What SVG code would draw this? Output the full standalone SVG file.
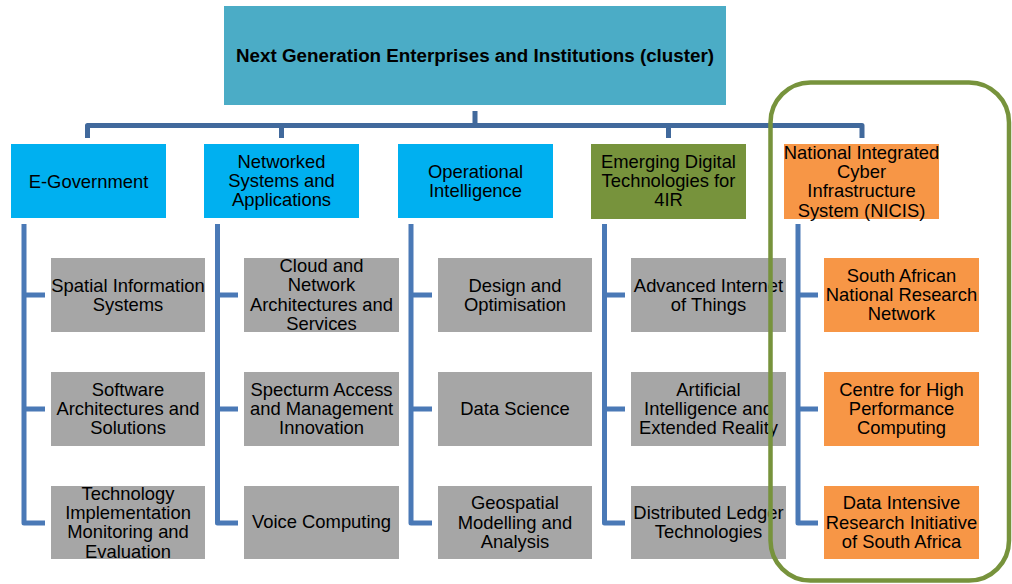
<svg xmlns="http://www.w3.org/2000/svg" width="1012" height="584" viewBox="0 0 1012 584">
<style>
text{font-family:"Liberation Sans",Arial,sans-serif;font-size:18.4px;fill:#000;text-anchor:middle}
.title{font-weight:bold;font-size:18.8px}
.top{fill:#4BACC6}
.blue{fill:#00B0F0}
.green{fill:#77933C}
.orange{fill:#F79646}
.gray{fill:#A6A6A6}
.bar{fill:none;stroke:#41699C;stroke-width:5;stroke-linejoin:round}
.stem{fill:none;stroke:#4A79B6;stroke-width:5;stroke-linejoin:round}
.frame{fill:none;stroke:#77933C;stroke-width:4.5}
</style>
<rect width="1012" height="584" fill="#fff"/>
<g id="connectors">
<path class="bar" d="M475 111V125.5M87.5 138V125.5H862V138M281.5 125.5V138M668.5 125.5V138"/>
<path class="stem" d="M24 224V523H45M24 295H45M24 409H45"/>
<path class="stem" d="M217.5 224V523H238M217.5 295H238M217.5 409H238"/>
<path class="stem" d="M411 224V523H432M411 295H432M411 409H432"/>
<path class="stem" d="M604.5 224V523H625M604.5 295H625M604.5 409H625"/>
<path class="stem" d="M798 224V523H818M798 295H818M798 409H818"/>
</g>
<g id="root">
<rect class="top" x="224" y="6" width="502" height="99"/>
<text class="title" x="475" y="62">Next Generation Enterprises and Institutions (cluster)</text>
</g>
<g id="egov">
<rect class="blue" x="11" y="144" width="155" height="74"/>
<text x="88.5" y="187.5">E-Government</text>
</g>
<g id="networked">
<rect class="blue" x="204" y="144" width="155" height="74"/>
<text><tspan x="281.5" y="167.8">Networked</tspan><tspan x="281.5" y="187.1">Systems and</tspan><tspan x="281.5" y="206.4">Applications</tspan></text>
</g>
<g id="operational">
<rect class="blue" x="398" y="144" width="155" height="74"/>
<text><tspan x="475.5" y="177.5">Operational</tspan><tspan x="475.5" y="196.8">Intelligence</tspan></text>
</g>
<g id="emerging">
<rect class="green" x="591" y="144" width="155" height="75"/>
<text><tspan x="668.5" y="167.8">Emerging Digital</tspan><tspan x="668.5" y="187.1">Technologies for</tspan><tspan x="668.5" y="206.4">4IR</tspan></text>
</g>
<g id="nicis">
<rect class="orange" x="784" y="144" width="155" height="75"/>
<text><tspan x="861.5" y="158.6">National Integrated</tspan><tspan x="861.5" y="177.9">Cyber</tspan><tspan x="861.5" y="197.2">Infrastructure</tspan><tspan x="861.5" y="216.5">System (NICIS)</tspan></text>
</g>
<g id="spatial">
<rect class="gray" x="51" y="258" width="154" height="74"/>
<text><tspan x="128" y="291.5">Spatial Information</tspan><tspan x="128" y="310.8">Systems</tspan></text>
</g>
<g id="software">
<rect class="gray" x="51" y="372" width="154" height="74"/>
<text><tspan x="128" y="395.8">Software</tspan><tspan x="128" y="415.1">Architectures and</tspan><tspan x="128" y="434.4">Solutions</tspan></text>
</g>
<g id="techimpl">
<rect class="gray" x="51" y="486" width="154" height="73"/>
<text><tspan x="128" y="499.6">Technology</tspan><tspan x="128" y="518.9">Implementation</tspan><tspan x="128" y="538.2">Monitoring and</tspan><tspan x="128" y="557.5">Evaluation</tspan></text>
</g>
<g id="cloud">
<rect class="gray" x="244" y="258" width="155" height="74"/>
<text><tspan x="321.5" y="272.1">Cloud and</tspan><tspan x="321.5" y="291.4">Network</tspan><tspan x="321.5" y="310.7">Architectures and</tspan><tspan x="321.5" y="330">Services</tspan></text>
</g>
<g id="spectrum">
<rect class="gray" x="244" y="372" width="155" height="74"/>
<text><tspan x="321.5" y="395.8">Specturm Access</tspan><tspan x="321.5" y="415.1">and Management</tspan><tspan x="321.5" y="434.4">Innovation</tspan></text>
</g>
<g id="voice">
<rect class="gray" x="244" y="486" width="155" height="73"/>
<text x="321.5" y="528">Voice Computing</text>
</g>
<g id="design">
<rect class="gray" x="438" y="258" width="154" height="74"/>
<text><tspan x="515" y="291.5">Design and</tspan><tspan x="515" y="310.8">Optimisation</tspan></text>
</g>
<g id="datascience">
<rect class="gray" x="438" y="372" width="154" height="74"/>
<text x="515" y="415.1">Data Science</text>
</g>
<g id="geospatial">
<rect class="gray" x="438" y="486" width="154" height="73"/>
<text><tspan x="515" y="509.3">Geospatial</tspan><tspan x="515" y="528.6">Modelling and</tspan><tspan x="515" y="547.9">Analysis</tspan></text>
</g>
<g id="iot">
<rect class="gray" x="631" y="258" width="155" height="74"/>
<text><tspan x="708.5" y="291.5">Advanced Internet</tspan><tspan x="708.5" y="310.8">of Things</tspan></text>
</g>
<g id="ai">
<rect class="gray" x="631" y="372" width="155" height="74"/>
<text><tspan x="708.5" y="395.8">Artificial</tspan><tspan x="708.5" y="415.1">Intelligence and</tspan><tspan x="708.5" y="434.4">Extended Reality</tspan></text>
</g>
<g id="ledger">
<rect class="gray" x="631" y="486" width="155" height="73"/>
<text><tspan x="708.5" y="518.9">Distributed Ledger</tspan><tspan x="708.5" y="538.2">Technologies</tspan></text>
</g>
<g id="sanren">
<rect class="orange" x="824" y="258" width="155" height="74"/>
<text><tspan x="901.5" y="281.8">South African</tspan><tspan x="901.5" y="301.1">National Research</tspan><tspan x="901.5" y="320.4">Network</tspan></text>
</g>
<g id="chpc">
<rect class="orange" x="824" y="372" width="155" height="74"/>
<text><tspan x="901.5" y="395.8">Centre for High</tspan><tspan x="901.5" y="415.1">Performance</tspan><tspan x="901.5" y="434.4">Computing</tspan></text>
</g>
<g id="dirisa">
<rect class="orange" x="824" y="486" width="155" height="73"/>
<text><tspan x="901.5" y="509.3">Data Intensive</tspan><tspan x="901.5" y="528.6">Research Initiative</tspan><tspan x="901.5" y="547.9">of South Africa</tspan></text>
</g>
<g id="nicis-frame">
<rect class="frame" x="770.5" y="82.5" width="238.5" height="498" rx="40" ry="40"/>
</g>
</svg>
